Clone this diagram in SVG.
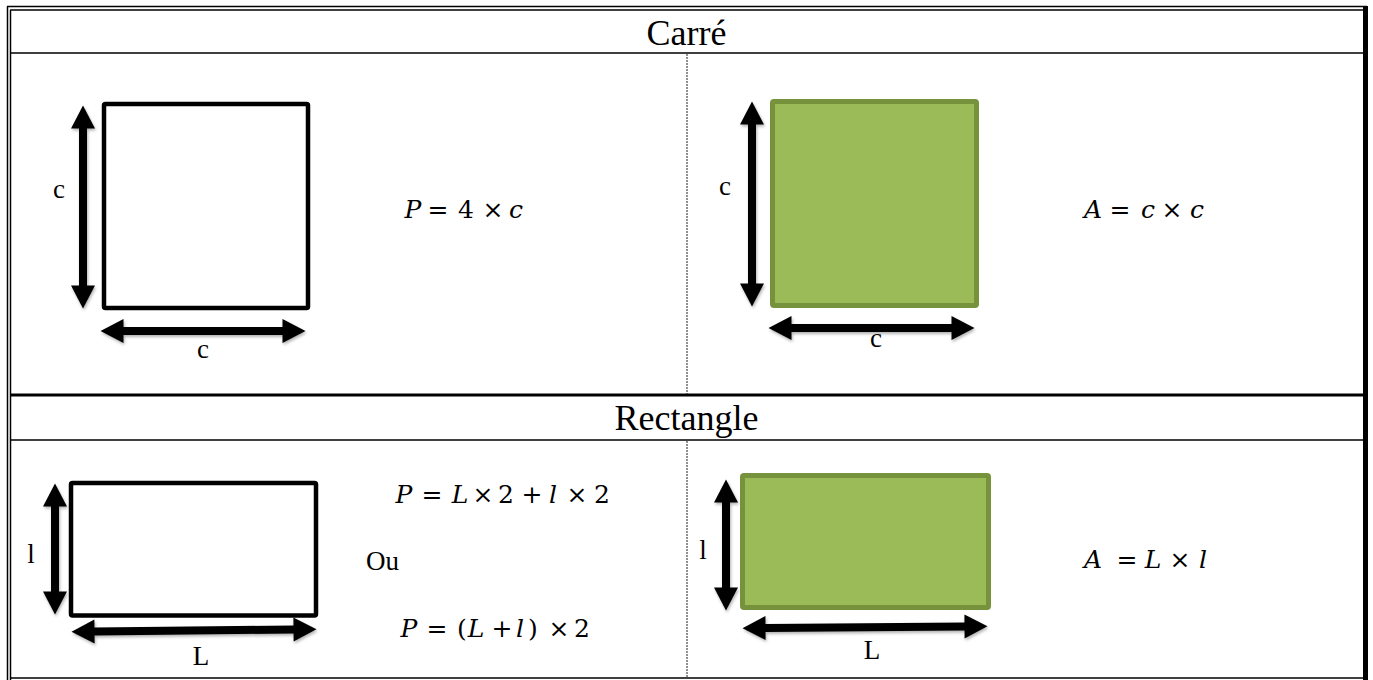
<svg xmlns="http://www.w3.org/2000/svg" width="1373" height="680" viewBox="0 0 1373 680">
<style>
.t{font-family:"Liberation Serif","Times New Roman",serif;fill:#000}
.title{font-size:36px;text-anchor:middle}
.lbl{font-size:27px;text-anchor:middle}
.m{font-family:"DejaVu Serif","Liberation Serif",serif;font-size:25px;fill:#000;text-anchor:middle}
.i{font-style:italic}
.rule{stroke:#000;fill:none}
.dot{stroke:#222;stroke-width:1;stroke-dasharray:2 1;fill:none}
.box{fill:#fff;stroke:#000;stroke-width:4.5}
.green{fill:#9BBB59;stroke:#76923C;stroke-width:5}
.arr{stroke:#000;stroke-width:8;fill:none;marker-start:url(#ah);marker-end:url(#ah)}
</style>
<defs>
<marker id="ah" markerUnits="userSpaceOnUse" markerWidth="24" markerHeight="24" refX="0.5" refY="12" orient="auto-start-reverse" overflow="visible">
<path d="M0,0 L23,12 L0,24 z" fill="#000"/>
</marker>
<filter id="sh" x="-20%" y="-20%" width="140%" height="140%">
<feDropShadow dx="1" dy="2" stdDeviation="1.5" flood-color="#000" flood-opacity="0.3"/>
</filter>
</defs>
<rect width="1373" height="680" fill="#fff"/>
<g id="table">
<line class="rule" x1="7.5" y1="6.5" x2="7.5" y2="680" stroke-width="1.5"/>
<line class="rule" x1="10.5" y1="10" x2="10.5" y2="680" stroke-width="1.5"/>
<line class="rule" x1="7" y1="6.5" x2="1367" y2="6.5" stroke-width="1.5"/>
<line class="rule" x1="10" y1="10" x2="1364" y2="10" stroke-width="1.5"/>
<rect x="1363" y="6" width="5" height="674" fill="#000"/>
<line class="rule" x1="10" y1="53" x2="1364" y2="53" stroke-width="1.6"/>
<line class="rule" x1="10" y1="395" x2="1364" y2="395" stroke-width="3.2"/>
<line class="rule" x1="10" y1="440" x2="1364" y2="440" stroke-width="1.6"/>
<line class="rule" x1="10" y1="678" x2="1364" y2="678" stroke-width="1.6"/>
<line class="dot" x1="687" y1="54" x2="687" y2="394"/>
<line class="dot" x1="687" y1="441" x2="687" y2="677"/>
<text class="t title" x="686.5" y="45">Carré</text>
<text class="t title" x="686.5" y="430">Rectangle</text>
</g>
<g id="carre-perimetre">
<rect class="box" x="104" y="104" width="204" height="204" rx="1.5"/>
<text class="t lbl" x="59" y="198">c</text>
<text class="t lbl" x="203" y="358">c</text>
<text class="m" y="218"><tspan class="i" x="413">P</tspan><tspan x="438">=</tspan><tspan x="466">4</tspan><tspan x="493">×</tspan><tspan class="i" x="516">c</tspan></text>
</g>
<g id="carre-aire">
<rect class="green" x="772.5" y="101.5" width="204" height="204" rx="1.5"/>
<text class="t lbl" x="725" y="195">c</text>
<text class="t lbl" x="876" y="347">c</text>
<text class="m" y="218"><tspan class="i" x="1093">A</tspan><tspan x="1120">=</tspan><tspan class="i" x="1148">c</tspan><tspan x="1172">×</tspan><tspan class="i" x="1197">c</tspan></text>
</g>
<g id="rectangle-perimetre">
<rect class="box" x="71" y="483" width="245" height="132.5" rx="1.5"/>
<text class="t lbl" x="31" y="563">l</text>
<text class="t lbl" x="201" y="665">L</text>
<text class="m" y="503"><tspan class="i" x="404">P</tspan><tspan x="432">=</tspan><tspan class="i" x="460">L</tspan><tspan x="483">×</tspan><tspan x="506">2</tspan><tspan x="532">+</tspan><tspan class="i" x="553">l</tspan><tspan x="577">×</tspan><tspan x="602">2</tspan></text>
<text class="t" x="366" y="570" style="font-size:27px">Ou</text>
<text class="m" y="637"><tspan class="i" x="409">P</tspan><tspan x="437">=</tspan><tspan x="462">(</tspan><tspan class="i" x="476">L</tspan><tspan x="502">+</tspan><tspan class="i" x="520">l</tspan><tspan x="533">)</tspan><tspan x="559">×</tspan><tspan x="582">2</tspan></text>
</g>
<g id="rectangle-aire">
<rect class="green" x="742.5" y="475.5" width="246" height="132" rx="1.5"/>
<text class="t lbl" x="703" y="559">l</text>
<text class="t lbl" x="872" y="659">L</text>
<text class="m" y="568"><tspan class="i" x="1093">A</tspan><tspan x="1127">=</tspan><tspan class="i" x="1153">L</tspan><tspan x="1180">×</tspan><tspan class="i" x="1203">l</tspan></text>
</g>
<g id="connectors" filter="url(#sh)">
<line class="arr" x1="83" y1="128" x2="83" y2="286"/>
<line class="arr" x1="123" y1="331" x2="283" y2="331"/>
<line class="arr" x1="752" y1="124" x2="752" y2="284"/>
<line class="arr" x1="791" y1="328" x2="952" y2="328"/>
<line class="arr" x1="55" y1="506" x2="55" y2="592"/>
<line class="arr" x1="94" y1="631.5" x2="294" y2="629.5"/>
<line class="arr" x1="726" y1="502" x2="726" y2="588"/>
<line class="arr" x1="765" y1="628" x2="965" y2="626.5"/>
</g>
</svg>
